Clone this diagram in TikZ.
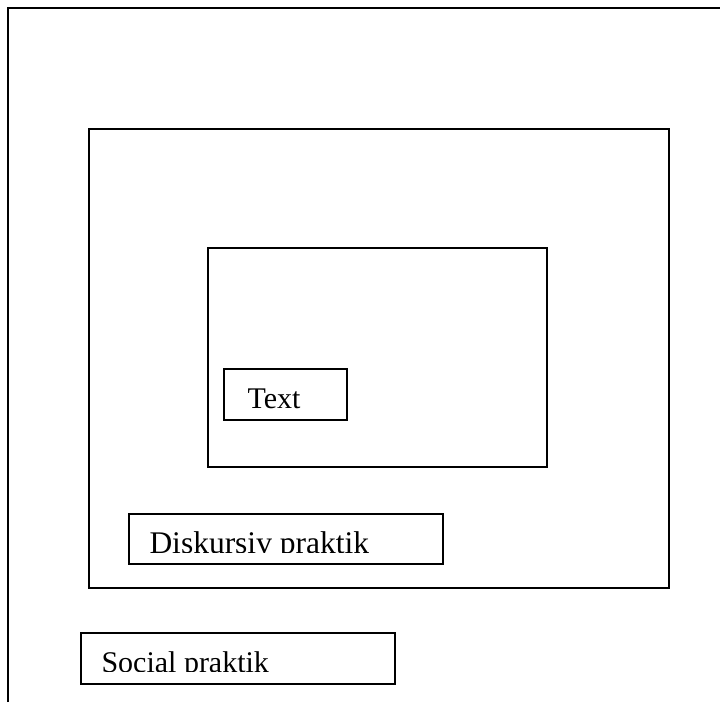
\documentclass[tikz,border=0pt]{standalone}
\usepackage{fontspec}
\setmainfont{Liberation Serif}
\begin{document}
\begin{tikzpicture}[x=1pt,y=1pt,yscale=-1,xscale=1,
  box/.style={draw,line width=1.5pt,anchor=north west,inner sep=0pt},
  label/.style={draw=none,anchor=base west,inner sep=0pt,minimum width=0pt,minimum height=0pt,
    font=\fontsize{30}{36}\selectfont}]
\useasboundingbox (0,0) rectangle (720,702);

%Outer frame (only top and left edge visible)
\draw [line width=1.8pt] (8,702) -- (8,8) -- (720,8) ;

%Shape: Rectangle [diskursiv level]
\node [box,minimum width=580pt,minimum height=459pt] (diskursiv) at (88,128) {};
%Shape: Rectangle [text level]
\node [box,minimum width=339pt,minimum height=219pt] (textlevel) at (207,247) {};

% Text Node
\node [box,minimum width=123pt,minimum height=51pt,
  path picture={\clip ([yshift=11pt]path picture bounding box.south west) rectangle (path picture bounding box.north east);
    \node [label] at ([xshift=23pt,yshift=11.5pt]path picture bounding box.south west) {Text};}]
  (textbox) at (223,368) {};
% Text Node
\node [box,minimum width=314pt,minimum height=50pt,
  path picture={\clip ([yshift=11pt]path picture bounding box.south west) rectangle (path picture bounding box.north east);
    \node [label,font=\fontsize{31.5}{36}\selectfont] at ([xshift=20pt,yshift=10pt]path picture bounding box.south west) {Diskursiv praktik};}]
  (diskursivbox) at (128,513) {};
% Text Node
\node [box,minimum width=314pt,minimum height=51pt,
  path picture={\clip ([yshift=12pt]path picture bounding box.south west) rectangle (path picture bounding box.north east);
    \node [label] at ([xshift=20pt,yshift=11pt]path picture bounding box.south west) {Social praktik};}]
  (socialbox) at (80,632) {};

\end{tikzpicture}
\end{document}
